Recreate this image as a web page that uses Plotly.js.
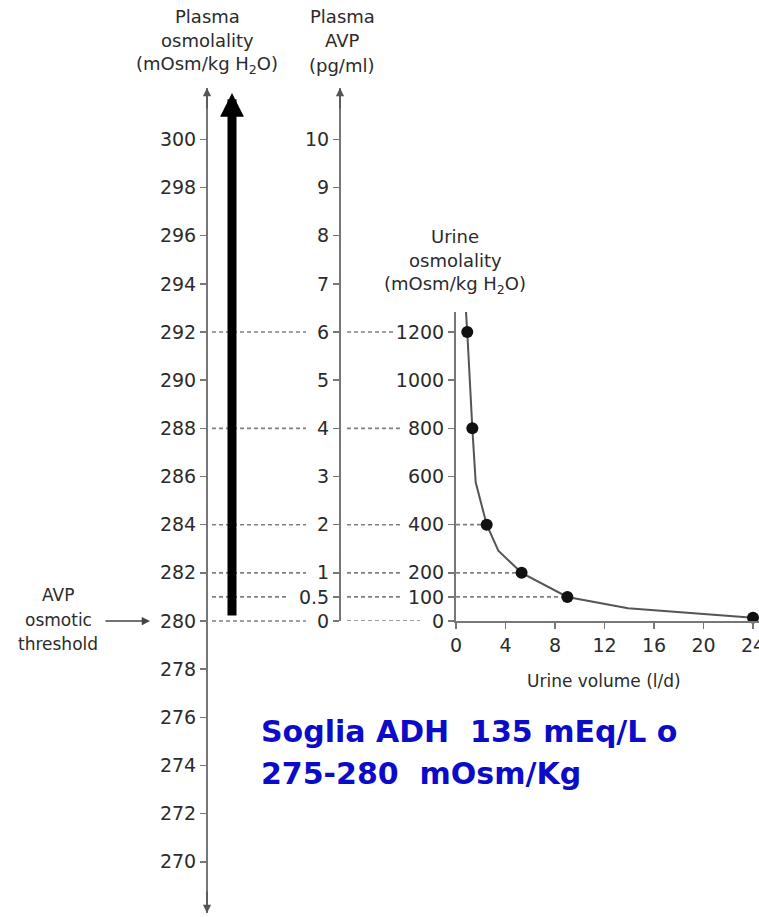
<!DOCTYPE html>
<html><head><meta charset="utf-8">
<script src="https://cdn.plot.ly/plotly-3.0.1.min.js"></script>
<style>html,body{margin:0;padding:0;background:#fff}#chart{width:759px;height:917px}</style>
</head><body><div id="chart"></div>
<script>
// ---------- data ----------
const plasmaOsmTicks = [270,272,274,276,278,280,282,284,286,288,290,292,294,296,298,300];
const avpTicks = [0,0.5,1,2,3,4,5,6,7,8,9,10];
const avpTickText = ['0','0.5','1','2','3','4','5','6','7','8','9','10'];
const urineOsmTicks = [0,100,200,400,600,800,1000,1200];
const urineVolumeTicks = [0,4,8,12,16,20,24];
// urine osmolality vs urine volume curve
const curveVolume   = [0.8, 0.91, 1.32, 1.59, 2.48, 3.42, 5.3, 9.0, 13.9, 24];
const curveUrineOsm = [1290, 1200, 800, 576, 400, 292, 200, 100, 53, 14];
const pointVolume   = [0.91, 1.32, 2.48, 5.3, 9.0, 24];
const pointUrineOsm = [1200, 800, 400, 200, 100, 14];
// correspondences plasma osm -> AVP -> urine osm
const linkedPlasmaOsm = [292, 288, 284, 282, 281, 280];
const linkedAvp       = [6, 4, 2, 1, 0.5, 0];
const linkedUrineOsm  = [1200, 800, 400, 200, 100, 0];
const thresholdOsm = 280;

// ---------- geometry (pixels) ----------
const W = 759, H = 917, TOP = 88, BOTTOM = 913;
const PH = BOTTOM - TOP;
const Y_ZERO = 621;            // y pixel of plasma 280 / AVP 0 / urine osm 0
const Y_URINE_TOP = 312;
const fy = p => (BOTTOM - p) / PH;
const PX_PER_MOSM = 24.08, PX_PER_AVP = 48.16, PX_PER_UOSM = 0.24083, PX_PER_VOL = 12.375;
const X_PLASMA = 207, X_AVP = 340, X_URINE = 456;

const FONT = '"DejaVu Sans", Verdana, sans-serif';
const AX = '#777', TXT = '#2b2b2b', DASH = '#808080';

function axisCommon() {
  return {showgrid:false, zeroline:false, showline:true, linecolor:AX, linewidth:2,
    ticks:'outside', ticklen:6, tickwidth:1.5, tickcolor:AX, ticklabeloverflow:'allow',
    tickfont:{family:FONT, size:19, color:TXT}, fixedrange:true};
}

const traces = [
  {x:[null], y:[null], xaxis:'x', yaxis:'y', mode:'markers', showlegend:false, hoverinfo:'skip'},
  {x:[null], y:[null], xaxis:'x', yaxis:'y2', mode:'markers', showlegend:false, hoverinfo:'skip'},
  {x:[null], y:[null], xaxis:'x', yaxis:'y4', mode:'markers', showlegend:false, hoverinfo:'skip'},
  {x:curveVolume, y:curveUrineOsm, xaxis:'x3', yaxis:'y3', mode:'lines',
   line:{color:'#555', width:2}, showlegend:false, hoverinfo:'skip', cliponaxis:true},
  {x:pointVolume, y:pointUrineOsm, xaxis:'x3', yaxis:'y3', mode:'markers',
   marker:{color:'#111', size:12}, showlegend:false, hoverinfo:'skip', cliponaxis:false}
];

const dashLine = {color:DASH, width:1.6, dash:'4px,3px'};
const leftEnds = [306, 306, 306, 306, 289, 306];
const midEnds = [393, 400, 400, 402, 402, 420];
const shapes = [];
linkedPlasmaOsm.forEach((v,i)=>shapes.push({type:'line', layer:'below', xref:'x', yref:'y',
  x0:212, x1:leftEnds[i], y0:v, y1:v, line:dashLine}));
linkedAvp.forEach((v,i)=>shapes.push({type:'line', layer:'below', xref:'x', yref:'y2',
  x0:347, x1:midEnds[i], y0:v, y1:v, line:dashLine}));
pointUrineOsm.forEach((v,i)=>{
  if (v===400 || v===200 || v===100) shapes.push({type:'line', layer:'below', xref:'x3', yref:'y3',
    x0:0, x1:pointVolume[i], y0:v, y1:v, line:dashLine});
});

const annotations = [];
function lines(arr, x, y0, step, size, opts) {
  arr.forEach((t,i)=>annotations.push(Object.assign({xref:'x', yref:'paper', x:x, y:fy(y0+i*step),
    text:t, showarrow:false, font:{family:FONT, size:size, color:TXT},
    xanchor:'center', yanchor:'middle'}, opts||{})));
}
lines(['Plasma','osmolality','(mOsm/kg H<sub>2</sub>O)'], 207, 16, 24.5, 18);
lines(['Plasma','AVP','(pg/ml)'], 342, 16, 24.5, 18);
lines(['Urine','osmolality','(mOsm/kg H<sub>2</sub>O)'], 455, 236, 24.5, 18);
lines(['AVP','osmotic','threshold'], 58, 595, 24.5, 17);
lines(['Urine volume (l/d)'], 604, 681, 24, 17);

// axis arrowheads
function arrowHead(x, tip, tail) {
  annotations.push({xref:'x', yref:'y4', axref:'x', ayref:'y4', x:x, y:tip, ax:x, ay:tail,
    text:'', showarrow:true, arrowhead:2, arrowsize:1.1, arrowwidth:1.5, arrowcolor:'#555', standoff:0});
}
arrowHead(X_PLASMA, 88, 110);
arrowHead(X_PLASMA, 913, 890);
arrowHead(X_AVP, 88, 110);
// threshold pointer
annotations.push({xref:'x', yref:'y', axref:'x', ayref:'y', x:150, y:thresholdOsm, ax:104, ay:thresholdOsm,
  text:'', showarrow:true, arrowhead:2, arrowsize:1.1, arrowwidth:1.5, arrowcolor:'#444', standoff:0});
// big black arrow (from the threshold level upward)
annotations.push({xref:'x', yref:'y4', axref:'x', ayref:'y4', x:232, y:93, ax:232, ay:Y_ZERO-4,
  text:'', showarrow:true, arrowhead:2, arrowsize:0.53, arrowwidth:9, arrowcolor:'#000', standoff:0});
// blue note
const BLUE = '#0b0bc8';
['Soglia ADH\u00a0 135 mEq/L o', '275-280\u00a0 mOsm/Kg'].forEach((t,i)=>annotations.push({
  xref:'x', yref:'paper', x:259, y:fy(731+i*42), text:'<b>'+t+'</b>', showarrow:false,
  xanchor:'left', yanchor:'middle', font:{family:FONT, size:30, color:BLUE}}));

const layout = {
  width:W, height:H, margin:{l:0, r:0, t:TOP, b:H-BOTTOM, pad:0},
  paper_bgcolor:'#fff', plot_bgcolor:'rgba(0,0,0,0)', showlegend:false,
  xaxis:{domain:[0,1], range:[0,W], visible:false, fixedrange:true},
  yaxis:Object.assign(axisCommon(), {anchor:'free', position:X_PLASMA/W, side:'left', domain:[0,1],
    range:[thresholdOsm-(BOTTOM-Y_ZERO)/PX_PER_MOSM, thresholdOsm+(Y_ZERO-TOP)/PX_PER_MOSM],
    tickmode:'array', tickvals:plasmaOsmTicks}),
  yaxis2:Object.assign(axisCommon(), {anchor:'free', position:X_AVP/W, side:'left',
    domain:[fy(Y_ZERO),1], range:[0,(Y_ZERO-TOP)/PX_PER_AVP],
    tickmode:'array', tickvals:avpTicks, ticktext:avpTickText}),
  xaxis3:Object.assign(axisCommon(), {anchor:'y3', domain:[X_URINE/W,1],
    range:[0,(W-X_URINE)/PX_PER_VOL], tickmode:'array', tickvals:urineVolumeTicks}),
  yaxis3:Object.assign(axisCommon(), {anchor:'x3', side:'left',
    domain:[fy(Y_ZERO), fy(Y_URINE_TOP)], range:[0,(Y_ZERO-Y_URINE_TOP)/PX_PER_UOSM],
    tickmode:'array', tickvals:urineOsmTicks}),
  yaxis4:{anchor:'x', domain:[0,1], range:[BOTTOM,TOP], visible:false, fixedrange:true},
  shapes:shapes, annotations:annotations
};
Plotly.newPlot('chart', traces, layout, {staticPlot:true, displayModeBar:false});
</script></body></html>
